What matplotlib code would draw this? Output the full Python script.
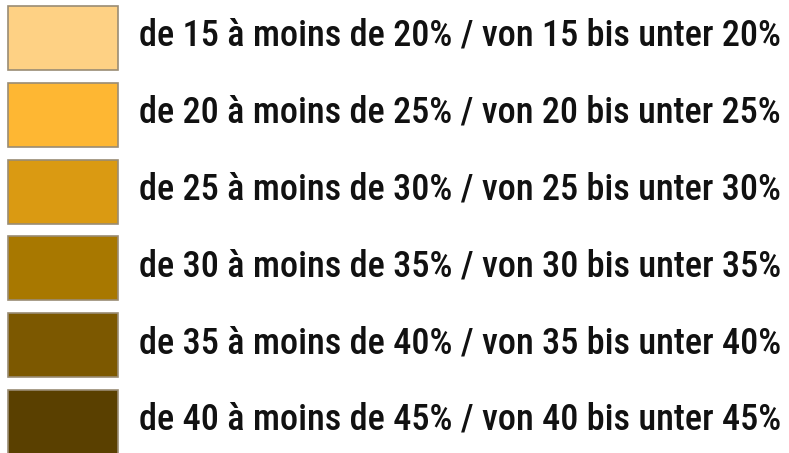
import matplotlib
matplotlib.use("Agg")
import matplotlib.pyplot as plt
from matplotlib import font_manager
from matplotlib.font_manager import FontProperties

# legend classes
lows = [15, 20, 25, 30, 35, 40]
highs = [20, 25, 30, 35, 40, 45]
colors = ['#FED184', '#FEB733', '#DA9A12', '#A87800', '#7C5800', '#5A4000']
labels = ['de %d à moins de %d%% / von %d bis unter %d%%' % (a, b, a, b)
          for a, b in zip(lows, highs)]

# look for a narrow font (medium weight), else plain Liberation Sans bold
fname = None
for fam, wt in [('Liberation Sans Narrow', 'bold'), ('Arial Narrow', 'bold'),
                ('Roboto Condensed', 'medium')]:
    try:
        fname = font_manager.findfont(FontProperties(family=fam, weight=wt),
                                      fallback_to_default=False)
        break
    except Exception:
        pass
if fname is None:
    fname = font_manager.findfont(FontProperties(family='Liberation Sans', weight='bold'))
fp = FontProperties(fname=fname)

fig = plt.figure(figsize=(7.89, 4.53), dpi=100)
ax = fig.add_axes([0, 0, 1, 1])
ax.set_xlim(0, 789)
ax.set_ylim(453, 0)
ax.axis('off')

ypos = [38 + i * 76.8 for i in range(len(labels))]
ax.barh(ypos, 110, height=64, left=8, color=colors,
        edgecolor='#9a8c74', linewidth=1.2)

texts = []
for y, lab in zip(ypos, labels):
    t = ax.text(139, y + 8, lab, fontproperties=fp, fontsize=26,
                va='baseline', ha='left', color='#111111')
    texts.append(t)

# fit the text width to the reference (about 644 px)
r = fig.canvas.get_renderer()
w = texts[0].get_window_extent(r).width
size = 26 * 644 / w
for t in texts:
    t.set_fontsize(size)

fig.savefig('out.png', dpi=100)
